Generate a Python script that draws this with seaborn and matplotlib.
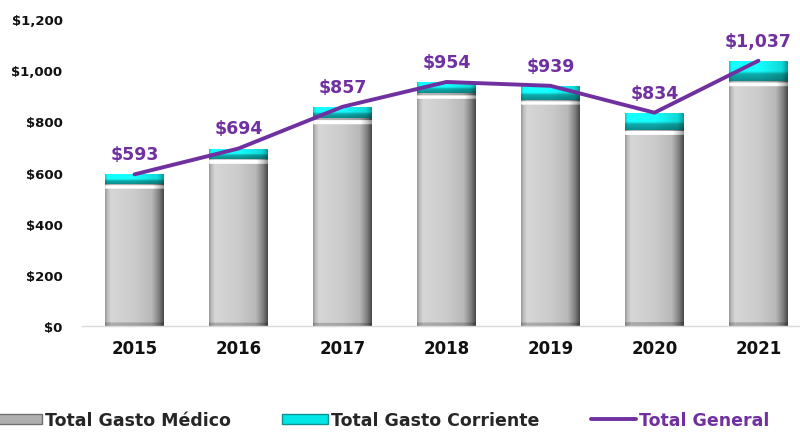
import matplotlib
matplotlib.use('Agg')
import matplotlib.pyplot as plt
import numpy as np
import pandas as pd
import seaborn as sns
from matplotlib.lines import Line2D
from matplotlib.patches import Patch

years = ['2015', '2016', '2017', '2018', '2019', '2020', '2021']
gasto_medico = [555, 654, 812, 909, 884, 768, 959]
gasto_corriente = [38, 40, 45, 45, 55, 66, 78]
total_general = [593, 694, 857, 954, 939, 834, 1037]

purple = '#7030A0'

df = pd.DataFrame({'year': years, 'medico': gasto_medico,
                   'corriente': gasto_corriente, 'total': total_general})
df['stack'] = df['medico'] + df['corriente']

sns.set_style('white')
plt.rcParams['font.family'] = ['DejaVu Sans']

fig = plt.figure(figsize=(8, 4.35), dpi=100)
ax = fig.add_axes([0.1025, 0.248, 0.8975, 0.706])

# stacked bars: full height (cyan part) first, medico on top of it
sns.barplot(data=df, x='year', y='stack', color='#00e6e6', width=0.567,
            saturation=1, ax=ax)
n_top = len(ax.patches)
sns.barplot(data=df, x='year', y='medico', color='#c8c8c8', width=0.567,
            saturation=1, ax=ax)

PX_PER_UNIT = 0.256  # approx pixels per data unit on y


def shade(patch, kind, low=None):
    x0, y0 = patch.get_x(), patch.get_y()
    w, h = patch.get_width(), patch.get_height()
    if h <= 0:
        return
    if low is not None:
        y0, h = low, y0 + h - low
    u = np.linspace(0, 1, 120)
    v = np.linspace(1, 0, 200)  # row 0 = top
    px = h * PX_PER_UNIT
    if kind == 'gray':
        prof = np.interp(u, [0, 0.04, 0.1, 0.5, 0.8, 0.92, 1],
                         [0.60, 0.74, 0.84, 0.80, 0.72, 0.50, 0.28])
        img = np.repeat(prof[None, :], len(v), axis=0)
        top_px = (1 - v) * px
        img[top_px < 1.5, :] *= 0.85
        bevel = (top_px >= 1.5) & (top_px < 5.5)
        img[bevel, :] = np.clip(img[bevel, :] + 0.3, 0, 1)
        bot = (v * px < 3)
        img[bot, :] *= 0.8
        rgb = np.stack([img, img, img], axis=-1)
    else:
        prof = np.interp(u, [0, 0.05, 0.5, 0.9, 1], [0.8, 1.0, 1.0, 0.85, 0.6])
        img = np.repeat(prof[None, :], len(v), axis=0)
        vert = np.interp(v, [0, 0.35, 0.5, 1], [0.55, 0.68, 1.0, 1.0])
        img = img * vert[:, None]
        rgb = np.stack([img * 0.08, img, img], axis=-1)
    im = ax.imshow(rgb, extent=[x0, x0 + w, y0, y0 + h], aspect='auto',
                   interpolation='bilinear', zorder=patch.get_zorder() + 0.1)
    im.set_clip_path(patch)


for i, p in enumerate(ax.patches):
    if i < n_top:
        shade(p, 'cyan', low=gasto_medico[i])
    else:
        shade(p, 'gray')

sns.lineplot(data=df, x='year', y='total', color=purple, linewidth=2.8,
             sort=False, ax=ax, zorder=5)

for i, v in enumerate(total_general):
    ax.annotate(f'${v:,.0f}', (i, v), xytext=(0, 8), textcoords='offset points',
                ha='center', va='bottom', color=purple, fontsize=12.5,
                fontweight='bold', zorder=6)

ax.set_ylim(0, 1200)
ax.set_xlim(-0.505, 6.40)
ax.set_yticks(range(0, 1201, 200))
ax.set_yticklabels([f'${t:,}' for t in range(0, 1201, 200)])
ax.set_xlabel('')
ax.set_ylabel('')
ax.tick_params(axis='y', labelsize=9.5, length=0, pad=14)
ax.tick_params(axis='x', labelsize=12, length=0, pad=9)
for lab in ax.get_xticklabels() + ax.get_yticklabels():
    lab.set_fontweight('bold')
    lab.set_color('#111111')
for s in ['top', 'right', 'left']:
    ax.spines[s].set_visible(False)
ax.spines['bottom'].set_color('#d9d9d9')
ax.spines['bottom'].set_linewidth(1)

handles = [Patch(facecolor='#b0b0b0', edgecolor='#707070'),
           Patch(facecolor='#00e6e6', edgecolor='#109090'),
           Line2D([0], [0], color=purple, linewidth=2.8)]
labels = ['Total Gasto Médico', 'Total Gasto Corriente', 'Total General']
leg = fig.legend(handles, labels, loc='center left',
                 bbox_to_anchor=(-0.024, 0.032),
                 ncol=3, frameon=False, handlelength=2.6, handleheight=0.55,
                 handletextpad=0.17, columnspacing=3.0,
                 prop={'size': 12.5, 'weight': 'bold'})
leg.get_texts()[2].set_color(purple)

fig.savefig('out.png', dpi=100)
